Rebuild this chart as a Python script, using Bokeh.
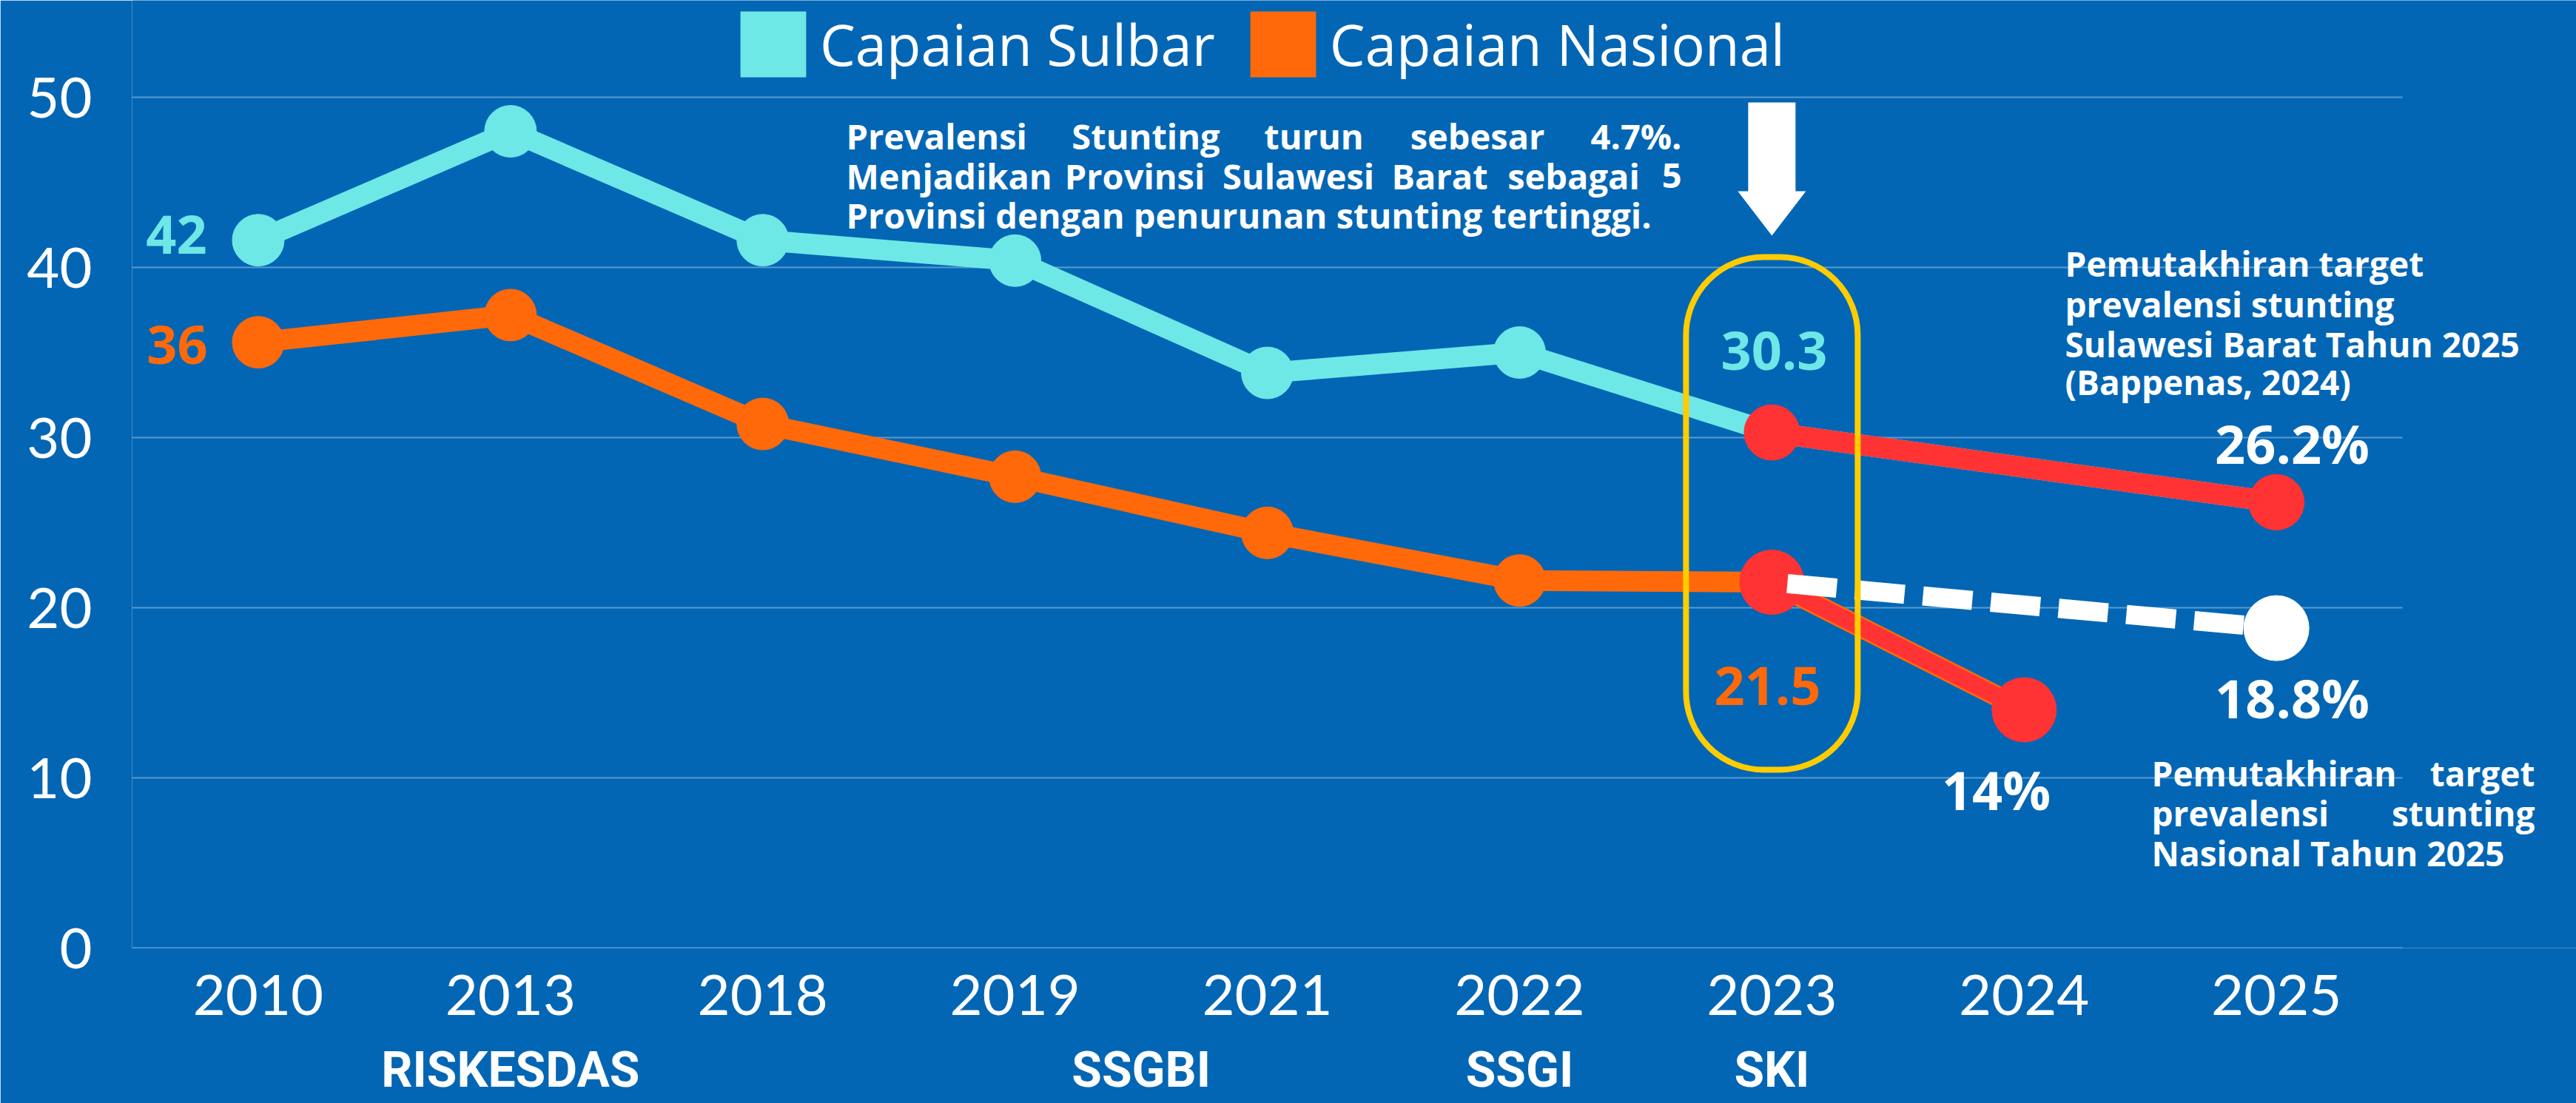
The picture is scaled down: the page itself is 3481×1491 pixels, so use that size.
from bokeh.plotting import figure
from bokeh.models import Range1d, FixedTicker, Label, Legend, LegendItem, LinearAxis
from bokeh.embed import file_html
from bokeh.resources import INLINE

# ---------------- data ----------------
YEARS = ["2010", "2013", "2018", "2019", "2021", "2022", "2023", "2024", "2025"]
SULBAR = [41.6, 48.0, 41.6, 40.4, 33.8, 35.0, 30.3, None, 26.2]
NASIONAL = [35.6, 37.2, 30.8, 27.7, 24.4, 21.6, 21.5, 14.0, None]
TARGET_NAS_2025 = 18.8
Y_TICKS = [0, 10, 20, 30, 40, 50]
SURVEYS = ["RISKESDAS", "SSGBI", "SSGI", "SKI"]
SURVEY_YEARS = [["2013"], ["2019", "2021"], ["2022"], ["2023"]]
SERIES_NAMES = ["Capaian Sulbar", "Capaian Nasional"]

# ---------------- style ----------------
BG = "#0366B4"
CYAN = "#6EE7E7"
ORANGE = "#FF690A"
RED = "#FF3333"
YELLOW = "#FFCC00"
WHITE = "#FFFFFF"
FONT = "Open Sans"
AXFONT = "Lato"

W, H = 3481, 1491
FL, FT, FB = 178, 0, 210
XPX = 340.9
YPX = 23.0
FH = H - FT - FB
Y_END = FH / YPX
X_END = -0.5 + (W - FL) / XPX


def dx(px):
    """picture x pixel -> data x"""
    return (px - FL) / XPX - 0.5


def dy(py):
    """picture y pixel -> data y"""
    return (FH + FT - py) / YPX


idx = list(range(len(YEARS)))
i23, i24, i25 = YEARS.index("2023"), YEARS.index("2024"), YEARS.index("2025")
sul_x = [i for i, v in zip(idx, SULBAR) if v is not None]
sul_y = [v for v in SULBAR if v is not None]
nas_x = [i for i, v in zip(idx, NASIONAL) if v is not None]
nas_y = [v for v in NASIONAL if v is not None]

p = figure(width=W, height=H, x_range=Range1d(-0.5, X_END),
           y_range=Range1d(0, Y_END), output_backend="svg", toolbar_location=None,
           background_fill_color=BG, border_fill_color=BG, outline_line_color=None,
           min_border_left=FL, min_border_right=0, min_border_top=FT,
           min_border_bottom=FB)

# axes
p.xaxis.ticker = FixedTicker(ticks=idx)
p.xaxis.major_label_overrides = {i: y for i, y in enumerate(YEARS)}
p.yaxis.ticker = FixedTicker(ticks=Y_TICKS)
for ax in (p.xaxis[0], p.yaxis[0]):
    ax.axis_line_color = None
    ax.major_tick_line_color = None
    ax.minor_tick_line_color = None
    ax.major_tick_out = 0
    ax.major_label_text_color = WHITE
    ax.major_label_text_font = AXFONT
    ax.major_label_text_font_size = "76px"
p.yaxis.major_label_standoff = 54
p.xaxis.major_label_standoff = 36

survey_pos = [sum(YEARS.index(y) for y in yrs) / len(yrs) for yrs in SURVEY_YEARS]
sax = LinearAxis(ticker=FixedTicker(ticks=survey_pos),
                 major_label_overrides={pos: n for pos, n in zip(survey_pos, SURVEYS)},
                 axis_line_color=None, major_tick_line_color=None, minor_tick_line_color=None,
                 major_tick_out=0, major_label_standoff=33,
                 major_label_text_color=WHITE, major_label_text_font="Roboto",
                 major_label_text_font_style="bold", major_label_text_font_size="66px")
p.add_layout(sax, "below")

# grid (only across the data columns)
p.xgrid.visible = False
p.ygrid.visible = False
p.segment(x0=[-0.5] * len(Y_TICKS), x1=[len(YEARS) - 0.5] * len(Y_TICKS), y0=Y_TICKS, y1=Y_TICKS,
          line_color=WHITE, line_alpha=0.35, line_width=2)

# main series
p.line(sul_x, sul_y, line_color=CYAN, line_width=28)
p.line(nas_x, nas_y, line_color=ORANGE, line_width=28)
p.scatter(sul_x[:i23], sul_y[:i23], size=70, color=CYAN)
p.scatter(nas_x[:i23], nas_y[:i23], size=70, color=ORANGE)

# projections
p.line([i23, i25], [SULBAR[i23], SULBAR[i25]], line_color=RED, line_width=28)
p.line([i23, i24], [NASIONAL[i23], NASIONAL[i24]], line_color=RED, line_width=23)
p.scatter([i23, i25], [SULBAR[i23], SULBAR[i25]], size=75, color=RED)
p.scatter([i23, i24], [NASIONAL[i23], NASIONAL[i24]], size=87, color=RED)
p.line([i23, i25], [NASIONAL[i23], TARGET_NAS_2025], line_color=WHITE, line_width=26,
       line_dash="67 25", line_dash_offset=71)
p.scatter([i25], [TARGET_NAS_2025], size=88, color=WHITE)

# highlight pill around 2023
hw = 116 / XPX
p.quad(left=[i23 - hw], right=[i23 + hw], top=[dy(347)], bottom=[dy(1040)],
       fill_color=None, line_color=YELLOW, line_width=8, border_radius=105)

# down arrow above 2023
sw, hd = 32 / XPX, 46 / XPX
p.patch([i23 - sw, i23 + sw, i23 + sw, i23 + hd, i23, i23 - hd, i23 - sw],
        [dy(138), dy(138), dy(258), dy(258), dy(318), dy(258), dy(258)],
        color=WHITE, line_color=None)

# legend (square swatches)
nan = float("nan")
r1 = p.rect(x=[nan], y=[nan], width=1, height=1, fill_color=CYAN, line_color=None)
r2 = p.rect(x=[nan], y=[nan], width=1, height=1, fill_color=ORANGE, line_color=None)
leg = Legend(items=[LegendItem(label=SERIES_NAMES[0], renderers=[r1]),
                    LegendItem(label=SERIES_NAMES[1], renderers=[r2])],
             orientation="horizontal", location=(989 - FL, FH - 115),
             glyph_width=111, glyph_height=111, label_standoff=8, spacing=36,
             padding=0, margin=0, border_line_color=None, background_fill_alpha=0,
             label_text_color=WHITE, label_text_font=FONT, label_text_font_size="76px")
p.add_layout(leg)


def lab(text, x, y, color=WHITE, size="47px", align="left", baseline="alphabetic", bold=True, font=FONT):
    p.add_layout(Label(x=x, y=y, text=text, text_color=color, text_font=font,
                       text_font_size=size, text_align=align, text_baseline=baseline,
                       text_font_style="bold" if bold else "normal"))


# value labels
lab("42", dx(238), dy(316), CYAN, "72px", "center", "middle")
lab("36", dx(239), dy(465), ORANGE, "72px", "center", "middle")
lab("30.3", dx(2397), dy(473), CYAN, "72px", "center", "middle")
lab("21.5", dx(2388), dy(926), ORANGE, "72px", "center", "middle")
lab("26.2%", dx(3097), dy(598), WHITE, "72px", "center", "middle")
lab("18.8%", dx(3097), dy(942), WHITE, "72px", "center", "middle")
lab("14%", dx(2697), dy(1066), WHITE, "72px", "center", "middle")

# top annotation (justified)
TOP_WORDS = [
    [("Prevalensi", "left", 1143), ("Stunting", "center", 1548), ("turun", "center", 1775),
     ("sebesar", "center", 1996), ("4.7%.", "right", 2272)],
    [("Menjadikan", "left", 1143), ("Provinsi", "center", 1533), ("Sulawesi", "center", 1754),
     ("Barat", "center", 1945), ("sebagai", "center", 2126), ("5", "right", 2272)],
    [("Provinsi dengan penurunan stunting tertinggi.", "left", 1143)],
]
for words, base in zip(TOP_WORDS, [183, 237, 290]):
    for w, a, x in words:
        lab(w, dx(x), dy(base), align=a)

# right upper annotation
for t, base in zip(["Pemutakhiran target", "prevalensi stunting",
                    "Sulawesi Barat Tahun 2025", "(Bappenas, 2024)"],
                   [355, 410, 464, 515]):
    lab(t, dx(2790), dy(base), size="46px")

# right lower annotation (justified)
LOW_WORDS = [
    [("Pemutakhiran", "left", 2907), ("target", "right", 3425)],
    [("prevalensi", "left", 2907), ("stunting", "right", 3425)],
    [("Nasional Tahun 2025", "left", 2907)],
]
for words, base in zip(LOW_WORDS, [1044, 1098, 1152]):
    for w, a, x in words:
        lab(w, dx(x), dy(base), align=a, size="46px")

open("out.html", "w").write(file_html(p, INLINE))
